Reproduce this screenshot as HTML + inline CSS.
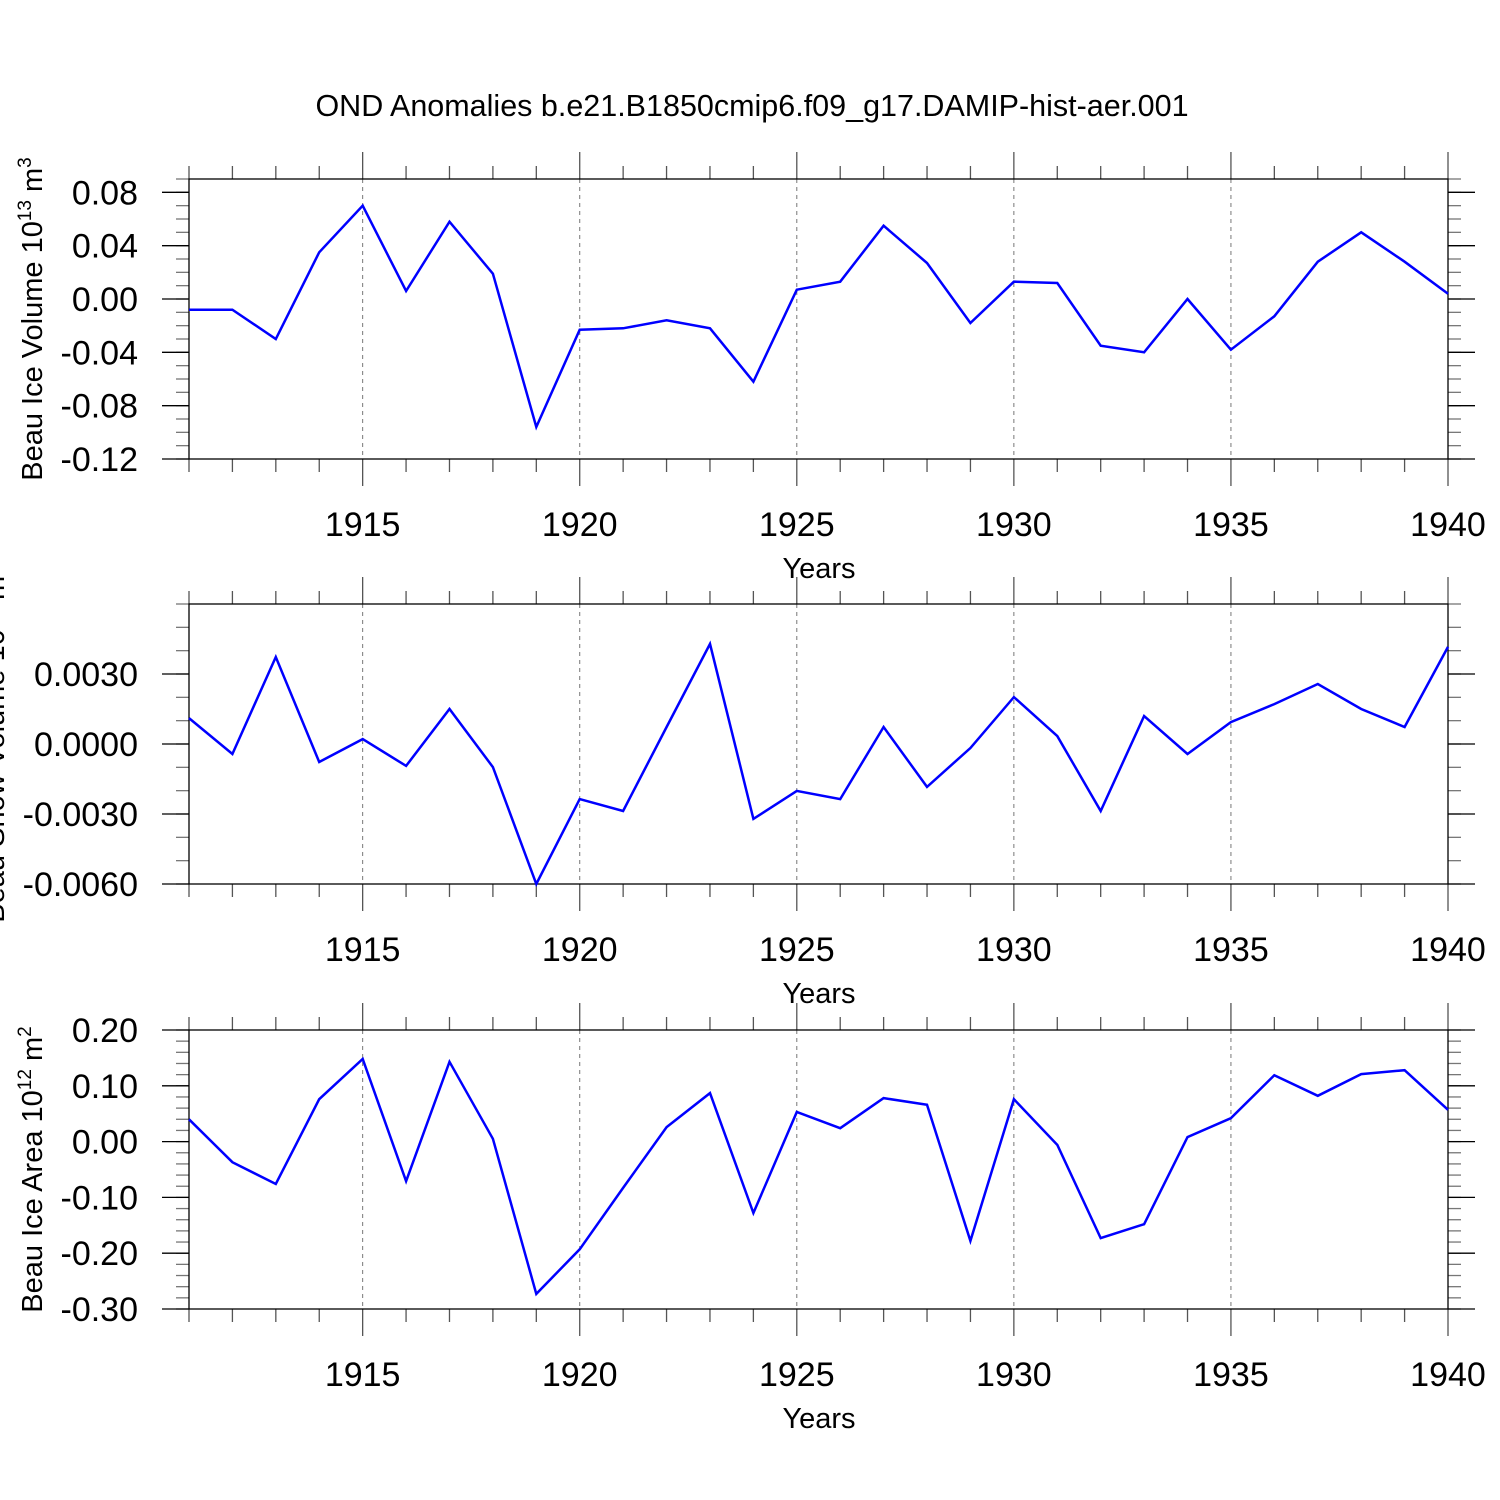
<!DOCTYPE html>
<html><head><meta charset="utf-8"><style>
html,body{margin:0;padding:0;background:#fff;}
svg{display:block;font-family:"Liberation Sans",sans-serif;}
</style></head><body>
<svg id="chart" width="1500" height="1500" viewBox="0 0 1500 1500" xmlns="http://www.w3.org/2000/svg">
<rect x="0" y="0" width="1500" height="1500" fill="#fff"/>
<text x="752" y="116" font-size="30.5" text-anchor="middle">OND Anomalies b.e21.B1850cmip6.f09_g17.DAMIP-hist-aer.001</text>
</svg>
<script>
const years = [1911,1912,1913,1914,1915,1916,1917,1918,1919,1920,1921,1922,1923,1924,1925,1926,1927,1928,1929,1930,1931,1932,1933,1934,1935,1936,1937,1938,1939,1940];
const iceVolume = [-0.008,-0.008,-0.030,0.035,0.070,0.006,0.058,0.019,-0.096,-0.023,-0.022,-0.016,-0.022,-0.062,0.007,0.013,0.055,0.027,-0.018,0.013,0.012,-0.035,-0.040,0.000,-0.038,-0.013,0.028,0.050,0.028,0.004];
const snowVolume = [0.00111,-0.00043,0.00373,-0.00077,0.00021,-0.00094,0.0015,-0.00099,-0.006,-0.00236,-0.00287,0.00073,0.00429,-0.00321,-0.00201,-0.00236,0.00073,-0.00184,-0.00017,0.00201,0.00034,-0.00287,0.0012,-0.00043,0.00094,0.00171,0.00257,0.0015,0.00073,0.00416];
const iceArea = [0.040,-0.037,-0.076,0.076,0.148,-0.071,0.143,0.005,-0.273,-0.193,-0.083,0.026,0.087,-0.128,0.053,0.024,0.078,0.066,-0.178,0.076,-0.006,-0.173,-0.148,0.008,0.042,0.119,0.082,0.121,0.128,0.057];
const xTickLabels = [1915,1920,1925,1930,1935,1940];
const volTicks = ["0.08","0.04","0.00","-0.04","-0.08","-0.12"];
const snowTicks = ["0.0030","0.0000","-0.0030","-0.0060"];
const areaTicks = ["0.20","0.10","0.00","-0.10","-0.20","-0.30"];

const NS = "http://www.w3.org/2000/svg";
const svg = document.getElementById('chart');
const X0 = 189, X1 = 1448, XMIN = 1911, XMAX = 1940;
function xs(v){ return X0 + (v - XMIN) / (XMAX - XMIN) * (X1 - X0); }
function mk(tag, attrs, parent){ const e = document.createElementNS(NS, tag); for (const k in attrs) e.setAttribute(k, attrs[k]); (parent||svg).appendChild(e); return e; }

const panels = [
  {name:'ice-volume', top:179, bot:459, ymin:-0.12, ymax:0.09, ticks:volTicks, minor:0.01, data:iceVolume, label:'Beau Ice Volume 10', sup:'13', unit:' m', sup2:'3', lx:42},
  {name:'snow-volume', top:604, bot:884, ymin:-0.006, ymax:0.006, ticks:snowTicks, minor:0.001, data:snowVolume, label:'Beau Snow Volume 10', sup:'13', unit:' m', sup2:'3', lx:4},
  {name:'ice-area', top:1030, bot:1309, ymin:-0.30, ymax:0.20, ticks:areaTicks, minor:0.02, data:iceArea, label:'Beau Ice Area 10', sup:'12', unit:' m', sup2:'2', lx:42}
];

panels.forEach(p => {
  const g = mk('g', {});
  
  
  const ys = v => p.bot - (v - p.ymin) / (p.ymax - p.ymin) * (p.bot - p.top);
  xTickLabels.forEach(yr => {
    if (yr === XMAX) return;
    const l = mk('line', {x1:xs(yr), x2:xs(yr), y1:p.top, y2:p.bot, stroke:'#777', 'stroke-width':1, 'stroke-dasharray':'4,4'}, g);
    
    
  });
  years.forEach(yr => {
    const major = yr % 5 === 0;
    const len = major ? 27 : 13;
    mk('line', {x1:xs(yr), x2:xs(yr), y1:p.top - len, y2:p.top, stroke:'#555', 'stroke-width':1.3}, g);
    mk('line', {x1:xs(yr), x2:xs(yr), y1:p.bot, y2:p.bot + len, stroke:'#555', 'stroke-width':1.3}, g);
  });
  const n = Math.round((p.ymax - p.ymin) / p.minor);
  for (let i = 0; i <= n; i++) {
    const v = p.ymin + i * p.minor, y = ys(v);
    mk('line', {x1:X0 - 13, x2:X0, y1:y, y2:y, stroke:'#777', 'stroke-width':1.3}, g);
    mk('line', {x1:X1, x2:X1 + 13, y1:y, y2:y, stroke:'#777', 'stroke-width':1.3}, g);
  }
  p.ticks.forEach(t => {
    const y = ys(parseFloat(t));
    mk('line', {x1:X0 - 27, x2:X0, y1:y, y2:y, stroke:'#000', 'stroke-width':1.3}, g);
    mk('line', {x1:X1, x2:X1 + 27, y1:y, y2:y, stroke:'#000', 'stroke-width':1.3}, g);
    const tx = mk('text', {x:138, y:y + 12, 'font-size':34, 'text-anchor':'end'}, g);
    tx.textContent = t;
    
    
  });
  const fr = mk('rect', {x:X0, y:p.top, width:X1 - X0, height:p.bot - p.top, fill:'none', stroke:'#000', 'stroke-width':1.3}, g);
  
  
  xTickLabels.forEach(yr => {
    const tx = mk('text', {x:xs(yr), y:p.bot + 77, 'font-size':34, 'text-anchor':'middle'}, g);
    tx.textContent = yr;
    
    
  });
  const xt = mk('text', {x:819, y:p.bot + 119, 'font-size':29, 'text-anchor':'middle'}, g);
  xt.textContent = 'Years';
  
  
  const cy = (p.top + p.bot) / 2;
  const yt = mk('text', {x:0, y:0, 'font-size':29, 'text-anchor':'middle', transform:'translate(' + (p.lx) + ',' + cy + ') rotate(-90)'}, g);
  
  
  yt.appendChild(document.createTextNode(p.label));
  const s1 = mk('tspan', {dy:-11, 'font-size':19}, yt); s1.textContent = p.sup;
  const s2 = mk('tspan', {dy:11}, yt); s2.textContent = p.unit;
  const s3 = mk('tspan', {dy:-11, 'font-size':19}, yt); s3.textContent = p.sup2;
  const pts = p.data.map((v, i) => xs(years[i]).toFixed(1) + ',' + ys(v).toFixed(1)).join(' ');
  const pl = mk('polyline', {points:pts, fill:'none', stroke:'#0000ff', 'stroke-width':2.5, 'stroke-linejoin':'miter'}, g);
  
  
});
</script>
</body></html>
